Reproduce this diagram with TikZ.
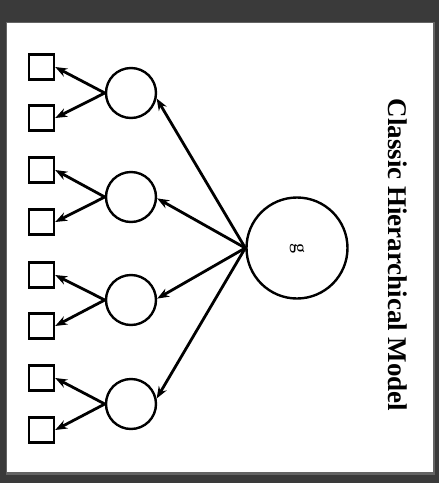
\documentclass[tikz,border=0pt]{standalone}
\usepackage{fontspec}
\setmainfont{Liberation Serif}
\usetikzlibrary{arrows.meta}
\definecolor{bgdark}{HTML}{3A3A3A}
\tikzset{
  leaf/.style={draw, line width=2.4pt, minimum size=25pt, inner sep=0pt},
  mid/.style={draw, circle, line width=2.4pt, minimum size=50pt, inner sep=0pt},
  top/.style={draw, circle, line width=2.4pt, minimum size=101pt, inner sep=0pt},
  link/.style={line width=2.8pt, -{Stealth[length=12pt, width=9pt]}},
}
\begin{document}
\begin{tikzpicture}[x=1pt, y=-1pt]
\fill[bgdark] (0,0) rectangle (439,483);
\fill[gray!60!bgdark] (6,22) rectangle (435,475);
\fill[white] (7,23) rectangle (433,472);
\useasboundingbox (0,0) rectangle (439,483);

\node[top] (g) at (297,248) {\rotatebox{-90}{\fontsize{20}{20}\selectfont g}};

\node[mid] (c1) at (131,93) {};
\node[mid] (c2) at (131,197) {};
\node[mid] (c3) at (131,300) {};
\node[mid] (c4) at (131,404) {};

\node[leaf] (s1) at (41.5,67) {};
\node[leaf] (s2) at (41.5,118) {};
\node[leaf] (s3) at (41.5,170) {};
\node[leaf] (s4) at (41.5,222) {};
\node[leaf] (s5) at (41.5,275) {};
\node[leaf] (s6) at (41.5,326) {};
\node[leaf] (s7) at (41.5,378) {};
\node[leaf] (s8) at (41.5,430) {};

\draw[link] (g.west) -- (c1.-12);
\draw[link] (g.west) -- (c2.-3);
\draw[link] (g.west) -- (c3.3);
\draw[link] (g.west) -- (c4.12);

\draw[link] (c1.west) -- (s1.east);
\draw[link] (c1.west) -- (s2.east);
\draw[link] (c2.west) -- (s3.east);
\draw[link] (c2.west) -- (s4.east);
\draw[link] (c3.west) -- (s5.east);
\draw[link] (c3.west) -- (s6.east);
\draw[link] (c4.west) -- (s7.east);
\draw[link] (c4.west) -- (s8.east);

\node[rotate=-90, font=\bfseries\fontsize{27}{27}\selectfont] (title) at (398,255) {Classic Hierarchical Model};
\end{tikzpicture}
\end{document}
